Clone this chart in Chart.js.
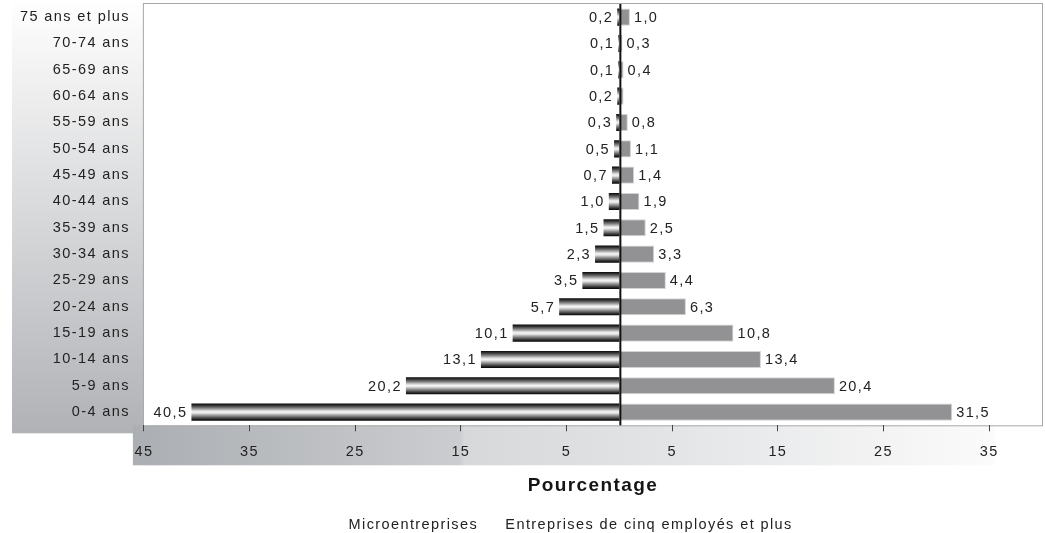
<!DOCTYPE html>
<html lang="fr">
<head>
<meta charset="utf-8">
<title>Pyramide des âges</title>
<script src="https://cdn.jsdelivr.net/npm/chart.js@4.4.1/dist/chart.umd.min.js"></script>
<style>
  html, body { margin: 0; padding: 0; background: #fff; }
  #cadre { position: relative; width: 1045px; height: 533px; }
</style>
</head>
<body>
<div id="cadre"><canvas id="pyramide"></canvas></div>
<script>
// ===== Données (du plus jeune au plus âgé) =====
const groupesAge = [
  '0-4 ans', '5-9 ans', '10-14 ans', '15-19 ans', '20-24 ans', '25-29 ans',
  '30-34 ans', '35-39 ans', '40-44 ans', '45-49 ans', '50-54 ans', '55-59 ans',
  '60-64 ans', '65-69 ans', '70-74 ans', '75 ans et plus'
];
const microEntreprises = [40.5, 20.2, 13.1, 10.1, 5.7, 3.5, 2.3, 1.5, 1.0, 0.7, 0.5, 0.3, 0.2, 0.1, 0.1, 0.2];
const entreprisesCinqPlus = [31.5, 20.4, 13.4, 10.8, 6.3, 4.4, 3.3, 2.5, 1.9, 1.4, 1.1, 0.8, 0.4, 0.4, 0.3, 1.0];
const sansEtiquetteDroite = ['60-64 ans']; // valeur non affichée sur l'original
const ticksX = [-45, -35, -25, -15, -5, 5, 15, 25, 35];
const nomsSeries = ['Microentreprises', 'Entreprises de cinq employés et plus'];

// ===== Réglages visuels =====
const POLICE = '"Liberation Sans", Arial, sans-serif';
const TAILLE = 14.5;
const ESPACE = '1.4px';          // texte étiré comme sur l'image d'origine
const BARRE_PCT = 0.65;
const decalageLegende = { x: 31, y: 10 };

Chart.defaults.font.family = POLICE;
Chart.defaults.color = '#222';

// Dégradé « métal » des barres de gauche, calé sur la bande de chaque catégorie
function degradeMetal(ctx) {
  const chart = ctx.chart;
  const y = chart.scales.y;
  if (!y || ctx.type !== 'data') return '#333';
  const centre = y.getPixelForValue(ctx.dataIndex);
  const demi = (y.height / groupesAge.length) * BARRE_PCT / 2;
  const g = chart.ctx.createLinearGradient(0, centre - demi, 0, centre + demi);
  g.addColorStop(0.00, '#050505');
  g.addColorStop(0.12, '#383838');
  g.addColorStop(0.25, '#7a7a7a');
  g.addColorStop(0.38, '#c6c6c6');
  g.addColorStop(0.48, '#f7f7f7');
  g.addColorStop(0.57, '#dedede');
  g.addColorStop(0.67, '#a4a4a4');
  g.addColorStop(0.79, '#656565');
  g.addColorStop(0.90, '#2a2a2a');
  g.addColorStop(1.00, '#030303');
  return g;
}

function fmtVal(v) {
  return Math.abs(v).toFixed(1).replace('.', ',');
}

// ---- Plugins maison
const espacement = {
  id: 'espacement',
  afterInit(chart) { chart.ctx.letterSpacing = ESPACE; },
  beforeUpdate(chart) { chart.ctx.letterSpacing = ESPACE; },
  beforeLayout(chart) { chart.ctx.letterSpacing = ESPACE; },
  beforeDraw(chart) { chart.ctx.letterSpacing = ESPACE; }
};

const fonds = {
  id: 'fonds',
  beforeDraw(chart) {
    const { ctx, chartArea: zone, scales: { x, y } } = chart;
    ctx.save();
    // panneau des libellés d'âge
    const gauche = y.left - 8;
    let g = ctx.createLinearGradient(0, 0, 0, zone.bottom + 8);
    g.addColorStop(0, '#ffffff');
    g.addColorStop(0.05, '#fbfbfb');
    g.addColorStop(1, '#b0b2b6');
    ctx.fillStyle = g;
    ctx.fillRect(gauche, 0, zone.left - gauche, zone.bottom + 8);
    // bande de l'axe horizontal
    const debut = zone.left - 11;
    const fin = x.getPixelForValue(ticksX[ticksX.length - 1]) + 5;
    g = ctx.createLinearGradient(debut, 0, fin, 0);
    g.addColorStop(0, '#abaeb2');
    g.addColorStop(0.38, '#cbcdd0');
    g.addColorStop(0.385, '#d6d8da');
    g.addColorStop(0.6, '#e2e3e5');
    g.addColorStop(1, '#fbfbfb');
    ctx.fillStyle = g;
    ctx.fillRect(debut, zone.bottom, fin - debut, 40);
    // zone de tracé
    ctx.fillStyle = '#ffffff';
    ctx.fillRect(zone.left, zone.top, zone.width, zone.height);
    ctx.strokeStyle = '#a8a8a8';
    ctx.lineWidth = 1;
    ctx.strokeRect(zone.left - 0.5, zone.top - 0.5, zone.width + 1, zone.height + 1);
    ctx.restore();
  }
};

const axeZero = {
  id: 'axeZero',
  afterDatasetsDraw(chart) {
    const { ctx, chartArea: zone, scales: { x } } = chart;
    const x0 = x.getPixelForValue(0);
    ctx.save();
    ctx.fillStyle = '#111';
    ctx.fillRect(x0, zone.top, 2, zone.height);
    ctx.restore();
  }
};

const etiquettesValeurs = {
  id: 'etiquettesValeurs',
  afterDatasetsDraw(chart) {
    const ctx = chart.ctx;
    ctx.save();
    ctx.font = TAILLE + 'px ' + POLICE;
    ctx.fillStyle = '#222';
    ctx.textBaseline = 'middle';
    chart.data.datasets.forEach((ds, i) => {
      const meta = chart.getDatasetMeta(i);
      meta.data.forEach((barre, j) => {
        if (i === 1 && sansEtiquetteDroite.includes(groupesAge[j])) return;
        const v = ds.data[j];
        if (v < 0) {
          ctx.textAlign = 'right';
          ctx.fillText(fmtVal(v), barre.x - 4, barre.y + 1);
        } else {
          ctx.textAlign = 'left';
          ctx.fillText(fmtVal(v), barre.x + 4, barre.y + 1);
        }
      });
    });
    ctx.restore();
  }
};

const placeLegende = {
  id: 'placeLegende',
  afterLayout(chart) {
    const lg = chart.legend;
    if (!lg) return;
    lg.left += decalageLegende.x; lg.right += decalageLegende.x;
    lg.top += decalageLegende.y; lg.bottom += decalageLegende.y;
  }
};

// ---- Graphique
const chart = new Chart(document.getElementById('pyramide'), {
  type: 'bar',
  data: {
    labels: groupesAge,
    datasets: [
      {
        label: nomsSeries[0],
        data: microEntreprises.map(v => -v),
        backgroundColor: degradeMetal,
        borderWidth: 0
      },
      {
        label: nomsSeries[1],
        data: entreprisesCinqPlus,
        backgroundColor: '#929295',
        borderColor: '#d4d4d6',
        borderWidth: 1,
        borderSkipped: 'start'
      }
    ]
  },
  options: {
    indexAxis: 'y',
    responsive: true,
    maintainAspectRatio: false,
    animation: false,
    datasets: { bar: { barPercentage: BARRE_PCT, categoryPercentage: 1 } },
    layout: { padding: { top: 4, right: 3, left: 20, bottom: 1 } },
    scales: {
      x: {
        type: 'linear',
        min: -45,
        max: 40,
        stacked: true,
        afterBuildTicks: (axe) => { axe.ticks = ticksX.map(v => ({ value: v })); },
        afterFit: (axe) => { axe.paddingLeft = 0; axe.paddingRight = 0; },
        grid: { drawOnChartArea: false, drawTicks: true, tickLength: 6, color: '#444' },
        border: { display: false },
        ticks: {
          autoSkip: false, maxRotation: 0, padding: 11.5, color: '#222',
          font: { size: TAILLE },
          callback: (v) => Math.abs(v)
        },
        title: {
          display: true, text: 'Pourcentage', color: '#151515',
          font: { size: 19, weight: 'bold' },
          padding: { top: 3, bottom: 0 }
        }
      },
      y: {
        type: 'category',
        reverse: true,
        stacked: true,
        afterFit: (axe) => { axe.paddingTop = 0; axe.paddingBottom = 0; },
        grid: { drawOnChartArea: false, drawTicks: true, tickLength: 14, color: 'rgba(0,0,0,0)' },
        border: { display: false },
        ticks: { autoSkip: false, padding: 0, color: '#222', font: { size: TAILLE } }
      }
    },
    plugins: {
      tooltip: { enabled: false },
      legend: {
        position: 'bottom',
        labels: {
          boxWidth: 10, padding: 10, color: '#222', font: { size: TAILLE },
          generateLabels: (ch) => ch.data.datasets.map((ds, i) => ({
            text: ds.label,
            fillStyle: 'rgba(0,0,0,0)',
            strokeStyle: 'rgba(0,0,0,0)',
            lineWidth: 0,
            hidden: false,
            fontColor: '#222',
            datasetIndex: i
          }))
        }
      }
    }
  },
  plugins: [espacement, fonds, axeZero, etiquettesValeurs, placeLegende]
});
</script>
</body>
</html>
